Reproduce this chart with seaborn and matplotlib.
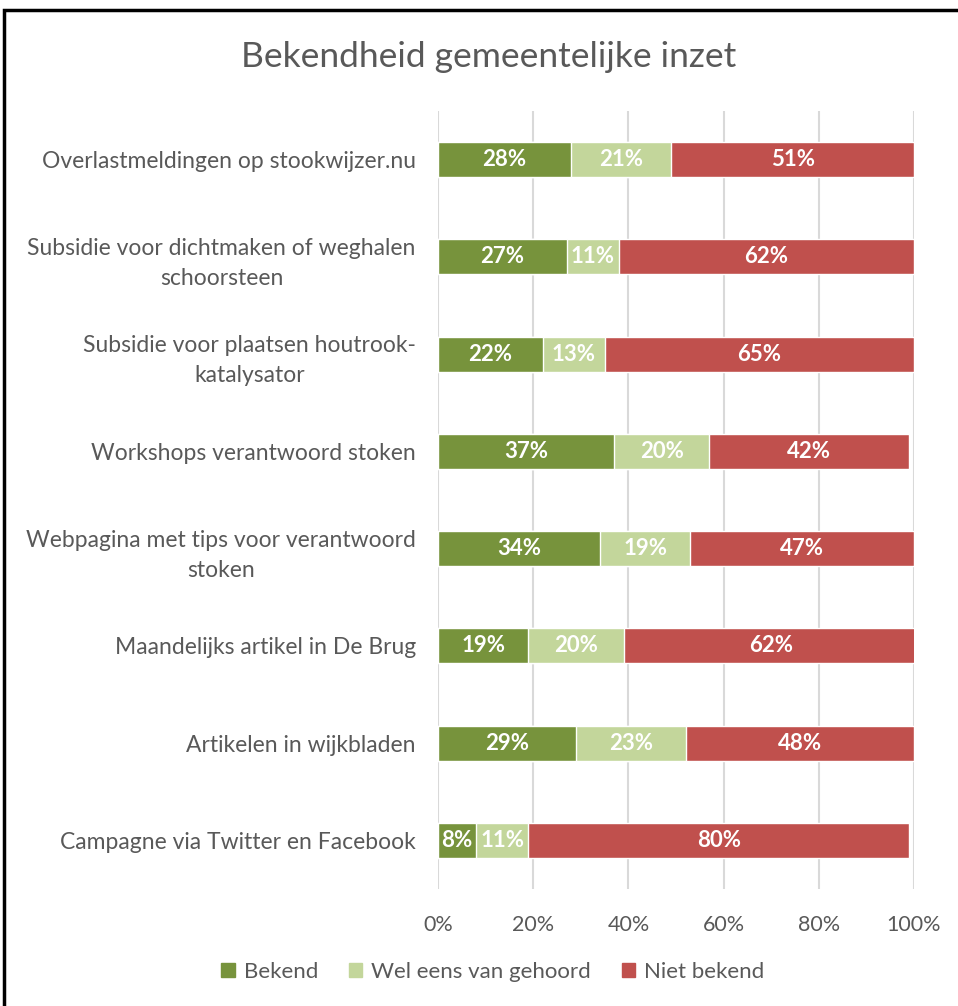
import matplotlib
matplotlib.use("Agg")
import matplotlib.pyplot as plt
import matplotlib.patches as mpatches
from matplotlib.ticker import PercentFormatter
import numpy as np
import seaborn as sns

# Data
categories = [
    "Overlastmeldingen op stookwijzer.nu",
    "Subsidie voor dichtmaken of weghalen\nschoorsteen",
    "Subsidie voor plaatsen houtrook-\nkatalysator",
    "Workshops verantwoord stoken",
    "Webpagina met tips voor verantwoord\nstoken",
    "Maandelijks artikel in De Brug",
    "Artikelen in wijkbladen",
    "Campagne via Twitter en Facebook",
]
bekend = [28, 27, 22, 37, 34, 19, 29, 8]
wel_eens = [21, 11, 13, 20, 19, 20, 23, 11]
niet_bekend = [51, 62, 65, 42, 47, 62, 48, 80]

series_names = ["Bekend", "Wel eens van gehoord", "Niet bekend"]
colors = ["#77933C", "#C3D69B", "#C0504D"]
text_color = "#595959"

sns.set_style("white")
plt.rcParams["font.family"] = ["Lato", "DejaVu Sans"]

fig = plt.figure(figsize=(9.58, 10.06), dpi=100)
ax = fig.add_axes([438 / 958, 1 - 889 / 1006, 476 / 958, 778 / 1006])

vals = np.array([bekend, wel_eens, niet_bekend]) / 100
cum = np.cumsum(vals, axis=0)

# stacked bars: draw cumulative totals from largest to smallest
for i in [2, 1, 0]:
    sns.barplot(x=cum[i], y=categories, color=colors[i], width=0.36,
                saturation=1, ax=ax, zorder=2)

# value labels
for i in range(3):
    starts = cum[i] - vals[i]
    for j in range(len(categories)):
        ax.text(starts[j] + vals[i][j] / 2, j, f"{round(vals[i][j] * 100)}%",
                ha="center", va="center", color="white",
                fontsize=16, fontweight="bold", zorder=3)

ax.set_xlim(0, 1)
ax.set_ylim(len(categories) - 0.5, -0.5)
ax.xaxis.set_major_formatter(PercentFormatter(1.0, decimals=0))
ax.set_xticks(np.arange(0, 1.01, 0.2))
ax.grid(axis="x", color="#D9D9D9", linewidth=1.5, zorder=0)
ax.set_axisbelow(True)
for s in ax.spines.values():
    s.set_visible(False)
ax.set_xlabel("")
ax.set_ylabel("")
ax.tick_params(axis="both", length=0, colors=text_color)
ax.tick_params(axis="y", pad=16, labelsize=16.5)
ax.tick_params(axis="x", pad=19, labelsize=15.5)
for t in ax.get_yticklabels():
    t.set_multialignment("center")
    t.set_linespacing(1.55)

fig.text(489 / 958, 1 - 57 / 1006, "Bekendheid gemeentelijke inzet",
         ha="center", va="center", fontsize=25.5, color=text_color)

handles = [mpatches.Patch(color=c, label=n) for c, n in zip(colors, series_names)]
fig.legend(handles=handles, loc="center", bbox_to_anchor=(493 / 958, 1 - 972 / 1006),
           ncol=3, frameon=False, fontsize=16, handlelength=0.6, handleheight=0.6,
           handletextpad=0.4, columnspacing=1.4, labelcolor=text_color)

# chart border
fig.patches.append(mpatches.Rectangle((3.5 / 958, -0.05), 1.2, 1 - 10 / 1006 + 0.05,
                                      transform=fig.transFigure, fill=False,
                                      edgecolor="black", linewidth=2.5))

fig.savefig("out.png", dpi=100)
